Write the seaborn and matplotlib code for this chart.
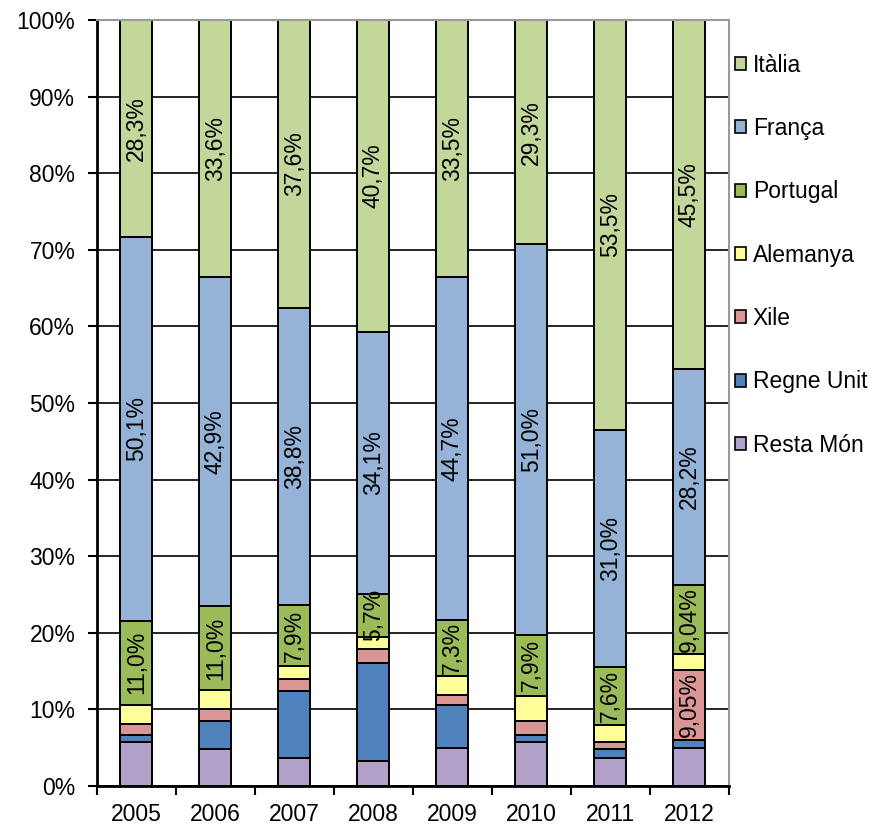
import numpy as np
import seaborn as sns
import matplotlib.pyplot as plt
from matplotlib.patches import Patch

years = ['2005', '2006', '2007', '2008', '2009', '2010', '2011', '2012']

# percent per country and year, bottom to top of each bar
resta_mon = [5.8, 4.8, 3.7, 3.2, 5.0, 5.8, 3.7, 5.0]
regne_unit = [0.8, 3.7, 8.7, 12.9, 5.6, 0.9, 1.1, 1.05]
xile = [1.5, 1.5, 1.6, 1.8, 1.3, 1.8, 1.0, 9.05]
alemanya = [2.5, 2.5, 1.7, 1.5, 2.4, 3.3, 2.1, 2.1]
portugal = [11.0, 11.0, 7.9, 5.7, 7.3, 7.9, 7.6, 9.04]
franca = [50.1, 42.9, 38.8, 34.1, 44.7, 51.0, 31.0, 28.2]
italia = [28.3, 33.6, 37.6, 40.7, 33.5, 29.3, 53.5, 45.5]

series = ['Resta Món', 'Regne Unit', 'Xile', 'Alemanya', 'Portugal', 'França', 'Itàlia']
values = [resta_mon, regne_unit, xile, alemanya, portugal, franca, italia]
colors = ['#B1A0C7', '#4F81BD', '#DA9694', '#FFFF99', '#9BBB59', '#95B3D7', '#C4D79B']
# which segments carry a value label
labelled = {'Portugal': 'all', 'França': 'all', 'Itàlia': 'all', 'Xile': ['2012']}

sns.set_style('white')
plt.rcParams['font.family'] = ['Liberation Sans', 'DejaVu Sans']
plt.rcParams['text.color'] = 'black'
plt.rcParams['xtick.color'] = 'black'
plt.rcParams['ytick.color'] = 'black'

FS = 16.5

fig = plt.figure(figsize=(8.8, 8.27), dpi=100)
ax = fig.add_axes([0.110, 0.0496, 0.718, 0.9262])

data = np.array(values)
totals = data.sum(axis=0)
pct = data / totals * 100  # 100% stacked
bottom = np.zeros(len(years))


def fmt(v):
    s = '%.1f' % v if abs(v * 10 - round(v * 10)) < 1e-6 else '%.2f' % v
    return s.replace('.', ',') + '%'


for name, raw, vals, col in zip(series, data, pct, colors):
    sns.barplot(x=years, y=vals, bottom=bottom, color=col, width=0.405,
                edgecolor='black', linewidth=1.4, saturation=1, ax=ax)
    which = labelled.get(name)
    if which:
        labs = [fmt(r) if (which == 'all' or y in which) else '' for y, r in zip(years, raw)]
        ax.bar_label(ax.containers[-1], labels=labs, label_type='center',
                     rotation=90, fontsize=FS, color='black')
    bottom = bottom + vals

ax.set_xlim(-0.5, len(years) - 0.5)
ax.set_ylim(0, 100)
ax.set_yticks(np.arange(0, 101, 10))
ax.set_yticklabels(['%d%%' % t for t in range(0, 101, 10)])
ax.set_xticks(np.arange(len(years)))
ax.set_xticks(np.arange(len(years) + 1) - 0.5, minor=True)
ax.tick_params(axis='x', which='major', length=0, pad=12, labelsize=FS)
ax.tick_params(axis='x', which='minor', length=6.5, width=1.5, direction='out', bottom=True)
ax.tick_params(axis='y', length=6.5, width=1.5, direction='out', left=True, pad=9, labelsize=FS)
ax.set_xlabel('')
ax.set_ylabel('')

ax.yaxis.grid(True, color='black', linewidth=1.2)
ax.set_axisbelow(True)
for s in ['left', 'bottom']:
    ax.spines[s].set_color('black')
    ax.spines[s].set_linewidth(2)
for s in ['top', 'right']:
    ax.spines[s].set_color('#999999')
    ax.spines[s].set_linewidth(1.5)

handles = [Patch(facecolor=c, edgecolor='black', linewidth=1.2, label=n)
           for n, c in zip(series, colors)][::-1]
ax.legend(handles=handles, loc='upper left', bbox_to_anchor=(0.995, 0.968),
          frameon=False, fontsize=FS, handlelength=0.5, handleheight=0.5,
          handletextpad=0.3, labelspacing=1.76, borderaxespad=0, borderpad=0.4)

fig.savefig('out.png', dpi=100)
